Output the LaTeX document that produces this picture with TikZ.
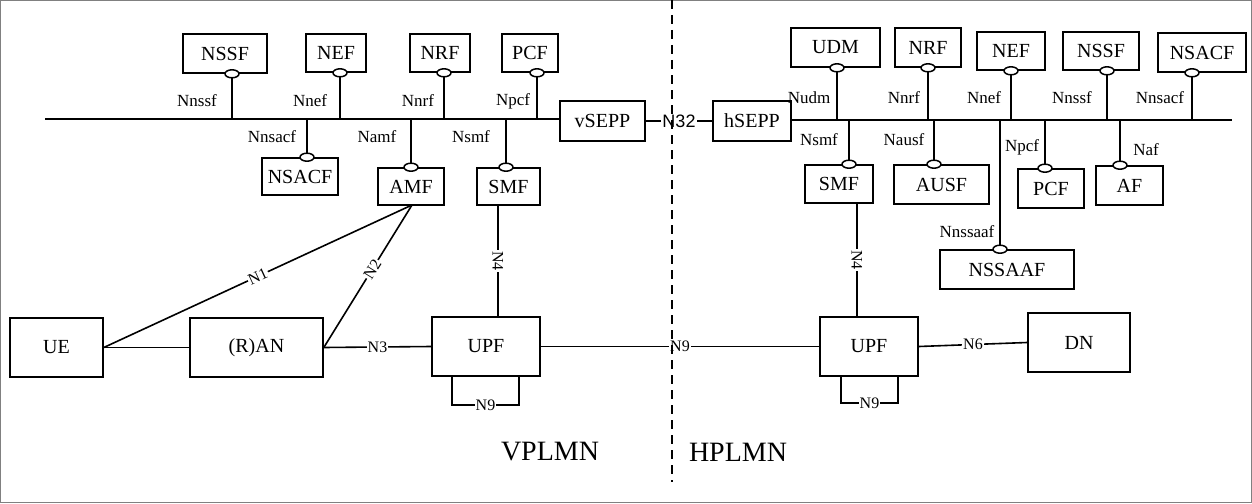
\documentclass[tikz,border=0pt]{standalone}
\usepackage{fontspec}
\usetikzlibrary{shapes.geometric}
\setmainfont{Liberation Serif}
\newfontfamily\lsans{Liberation Sans}
\begin{document}
\begin{tikzpicture}[x=1pt,y=-1pt,
  bx/.style={draw,line width=1.6pt,inner sep=0pt,font=\fontsize{20}{20}\selectfont},
  lb/.style={font=\fontsize{17}{17}\selectfont,inner sep=1pt},
  ml/.style={font=\fontsize{16}{16}\selectfont,fill=white,inner sep=1pt},
  ln/.style={line width=1.6pt},
  el/.style={draw,line width=1.5pt,fill=white,ellipse,minimum width=14pt,minimum height=8pt,inner sep=0pt}]
\useasboundingbox (0,0) rectangle (1252,503);
\draw[gray,line width=1pt] (0.5,0.5) rectangle (1251.5,502.5);
\def\bxx#1#2#3#4#5#6{\node[bx,minimum width=#4-#2,minimum height=#5-#3] (#1) at ({(#2+#4)/2},{(#3+#5)/2}) {#6};}
% left
\bxx{nssfL}{183}{34}{267}{73}{NSSF}
\bxx{nefL}{306}{34}{366}{72}{NEF}
\bxx{nrfL}{410}{34}{470}{72}{NRF}
\bxx{pcfL}{502}{34}{558}{72}{PCF}
\bxx{vsepp}{560}{101}{645}{141}{vSEPP}
\bxx{nsacfL}{262}{158}{338}{195}{NSACF}
\bxx{amfL}{378}{168}{444}{205}{AMF}
\bxx{smfL}{477}{168}{540}{205}{SMF}
\coordinate (busL) at (45,119);
\draw[ln] (busL) -- (vsepp.west |- busL);
\foreach \n/\x/\l/\lx in {nssfL/232/Nnssf/197,nefL/340/Nnef/310,nrfL/444/Nnrf/418,pcfL/537/Npcf/513}{
  \draw[ln] (\x,119) -- (\n.south -| \x,0);
  \node[el] at (\n.south -| \x,0) {};
  \node[lb] at (\lx,101) {\l};}
\foreach \n/\x/\l/\lx in {nsacfL/307/Nnsacf/272,amfL/411/Namf/377,smfL/506/Nsmf/471}{
  \draw[ln] (\x,119) -- (\n.north -| \x,0);
  \node[el] at (\n.north -| \x,0) {};
  \node[lb] at (\lx,137) {\l};}
% right
\bxx{hsepp}{713}{101}{791}{141}{hSEPP}
\draw[ln] (vsepp.east) -- node[fill=white,inner sep=1pt,font=\lsans\fontsize{18}{18}\selectfont]{N32} (hsepp.west);
\bxx{udm}{791}{28}{880}{67}{UDM}
\bxx{nrfR}{895}{28}{961}{67}{NRF}
\bxx{nefR}{977}{32}{1045}{70}{NEF}
\bxx{nssfR}{1063}{32}{1139}{70}{NSSF}
\bxx{nsacfR}{1158}{33}{1246}{72}{NSACF}
\bxx{smfR}{805}{165}{873}{203}{SMF}
\bxx{ausf}{894}{165}{989}{204}{AUSF}
\bxx{pcfR}{1018}{169}{1084}{208}{PCF}
\bxx{af}{1096}{166}{1163}{205}{AF}
\bxx{nssaaf}{940}{250}{1074}{289}{NSSAAF}
\coordinate (busR) at (1232,120);
\draw[ln] (hsepp.east |- busR) -- (busR);
\foreach \n/\x/\l/\lx in {udm/837/Nudm/809,nrfR/928/Nnrf/904,nefR/1011/Nnef/984,nssfR/1107/Nnssf/1072,nsacfR/1192/Nnsacf/1160}{
  \draw[ln] (\x,120) -- (\n.south -| \x,0);
  \node[el] at (\n.south -| \x,0) {};
  \node[lb] at (\lx,98) {\l};}
\foreach \n/\x/\l/\lx/\ly in {smfR/849/Nsmf/819/140,ausf/934/Nausf/904/140,pcfR/1045/Npcf/1022/147,af/1120/Naf/1146/150,nssaaf/1000/Nnssaaf/967/232}{
  \draw[ln] (\x,120) -- (\n.north -| \x,0);
  \node[el] at (\n.north -| \x,0) {};
  \node[lb] at (\lx,\ly) {\l};}
% bottom
\bxx{ue}{10}{318}{103}{377}{UE}
\bxx{ran}{190}{318}{323}{377}{(R)AN}
\bxx{upfL}{432}{317}{540}{376}{UPF}
\bxx{upfR}{820}{317}{918}{376}{UPF}
\bxx{dn}{1028}{313}{1130}{372}{DN}
\coordinate (amfb) at (412,205);
\draw[ln] (ue.east) -- (ran.west);
\draw[ln] (ue.east) -- node[ml,sloped]{N1} (amfb);
\draw[ln] (ran.east) -- node[ml,sloped,pos=0.55]{N2} (amfb);
\draw[ln] (ran.east) -- node[ml]{N3} (upfL.west);
\draw[ln] (upfL.east) -- node[ml]{N9} (upfR.west);
\draw[ln] (upfR.east) -- node[ml]{N6} (dn.west);
\draw[ln] (smfL.south -| 498,0) -- node[ml,rotate=-90]{N4} (upfL.north -| 498,0);
\draw[ln] (smfR.south -| 857,0) -- node[ml,rotate=-90]{N4} (upfR.north -| 857,0);
\draw[ln] (upfL.south -| 452,0) -- (452,405) -- node[ml]{N9} (519,405) -- (upfL.south -| 519,0);
\draw[ln] (upfR.south -| 841,0) -- (841,403) -- node[ml]{N9} (898,403) -- (upfR.south -| 898,0);
\draw[line width=1.6pt,dash pattern=on 9pt off 6pt] (672,0) -- (672,482);
\node[font=\fontsize{28}{28}\selectfont] (vp) at (550,452) {VPLMN};
\node[font=\fontsize{28}{28}\selectfont] (hp) at (738,452) {HPLMN};
\end{tikzpicture}
\end{document}
